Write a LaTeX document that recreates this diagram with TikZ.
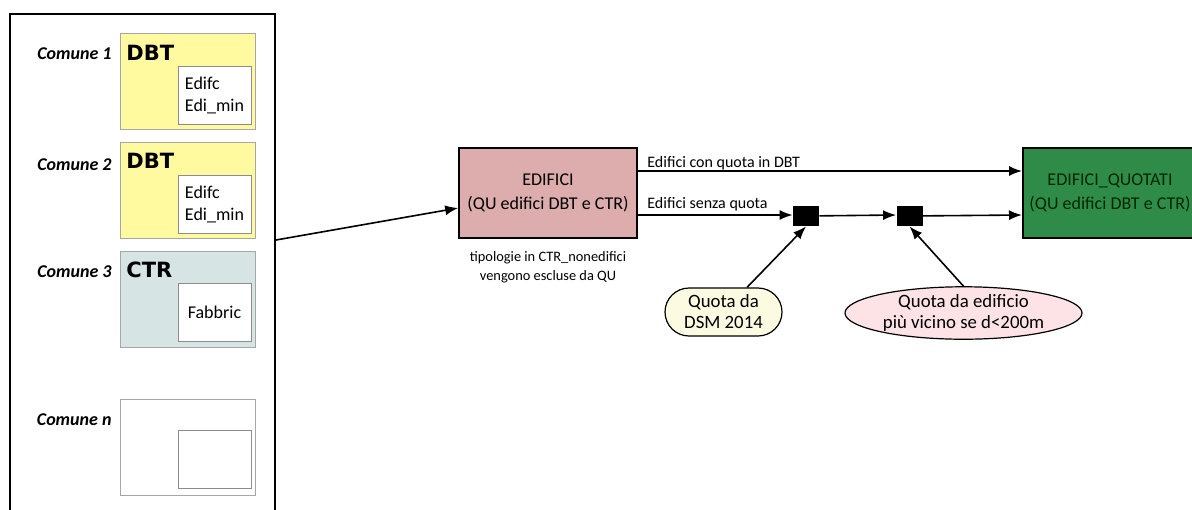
\documentclass[tikz,border=0pt]{standalone}
\usepackage{fontspec}
\usetikzlibrary{shapes.geometric, arrows.meta}
\setmainfont{Carlito}
\newfontfamily\dbfont{DejaVu Sans}
\definecolor{dbtyellow}{RGB}{255,250,160}
\definecolor{ctrgrey}{RGB}{214,228,228}
\definecolor{edirose}{RGB}{221,172,172}
\definecolor{quotgreen}{RGB}{46,140,72}
\definecolor{dsmcream}{RGB}{252,250,224}
\definecolor{nearpink}{RGB}{253,226,230}

\begin{document}
\begin{tikzpicture}[x=0.5pt, y=-0.5pt,
    comune/.style={font=\fontsize{9}{11}\selectfont\bfseries\itshape, anchor=east, inner sep=0},
    dbbox/.style={draw=black!35, minimum width=67.5pt, minimum height=48pt, inner sep=0},
    layer/.style={draw=black!45, fill=white, minimum width=36.5pt, minimum height=29pt, inner sep=0,
        align=left, font=\fontsize{9}{11}\selectfont},
    dbname/.style={font=\dbfont\bfseries\fontsize{10.5}{12}\selectfont, anchor=base west, inner sep=0},
    process/.style={draw, line width=0.8pt, minimum width=89pt, minimum height=45pt,
        align=center, font=\fontsize{9}{12}\selectfont},
    joint/.style={fill=black, minimum width=13pt, minimum height=10pt, inner sep=0},
    source/.style={draw, line width=0.6pt, minimum height=24pt, inner sep=0, align=center,
        font=\fontsize{9.4}{10.5}\selectfont},
    flowlabel/.style={font=\fontsize{8}{9}\selectfont, anchor=base west, inner sep=0},
    flow/.style={black, -{Latex[length=6.5pt, width=5pt]}, line width=0.8pt}]
    \useasboundingbox (0,0) rectangle (1192,509);
    \clip (0,0) rectangle (1192,509);

    \node [draw, line width=1pt, minimum width=132.5pt, minimum height=253pt] (comuni) at (142.5,267) {};

    \node [comune] (c1) at (112,54) {Comune 1};
    \node [dbbox, fill=dbtyellow] (dbt1) at (187.5,81) {};
    \node [dbname] (dbt1name) at (126,60) {DBT};
    \node [layer] (dbt1layer) at (214.5,95) {Edifc\\Edi\_min};

    \node [comune] (c2) at (112,165) {Comune 2};
    \node [dbbox, fill=dbtyellow] (dbt2) at (187.5,190.5) {};
    \node [dbname] (dbt2name) at (126,168) {DBT};
    \node [layer] (dbt2layer) at (214.5,204) {Edifc\\Edi\_min};

    \node [comune] (c3) at (112,272) {Comune 3};
    \node [dbbox, fill=ctrgrey] (ctr3) at (187.5,299.5) {};
    \node [dbname] (ctr3name) at (126,277) {CTR};
    \node [layer] (ctr3layer) at (214.5,312.5) {Fabbric};

    \node [comune] (cn) at (112,420) {Comune n};
    \node [dbbox] (dbn) at (187.5,447) {};
    \node [layer] (dbnlayer) at (214.5,459.5) {};

    \node [process, fill=edirose] (edifici) at (548,193) {EDIFICI\\(QU edifici DBT e CTR)};
    \node [align=center, font=\fontsize{7.2}{9.5}\selectfont] (note) at (548,267)
        {tipologie in CTR\_nonedifici\\vengono escluse da QU};
    \node [process, fill=quotgreen, minimum width=87pt, text=black!85!green] (quotati) at (1110,193)
        {EDIFICI\_QUOTATI\\(QU edifici DBT e CTR)};

    \node [joint] (sq1) at (806,216) {};
    \node [joint] (sq2) at (909.5,216) {};

    \node [source, fill=dsmcream, rounded corners=12pt, minimum width=58.5pt] (dsm) at (723.5,312)
        {Quota da\\DSM 2014};
    \node [source, fill=nearpink, ellipse, minimum width=118.5pt] (vicino) at (963.5,313)
        {Quota da edificio\\più vicino se d<200m};

    \draw [flow] ([yshift=13.5pt]comuni.east) -- ([yshift=-7.5pt]edifici.west);
    \draw [flow] ([yshift=11pt]edifici.east) -- ([yshift=11pt]quotati.west);
    \draw [flow] ([yshift=-11pt]edifici.east) -- (sq1.west |- 0,215);
    \draw [flow] (sq1) -- (sq2.west |- 0,215);
    \draw [flow] (sq2) -- ([yshift=-11pt]quotati.west);
    \draw [flow] ([xshift=11.75pt]dsm.north) -- (sq1.south);
    \draw [flow] (vicino.north) -- (sq2.south);

    \node [flowlabel] (conquota) at (647,167) {Edifici con quota in DBT};
    \node [flowlabel] (senzaquota) at (647,208) {Edifici senza quota};
\end{tikzpicture}
\end{document}
